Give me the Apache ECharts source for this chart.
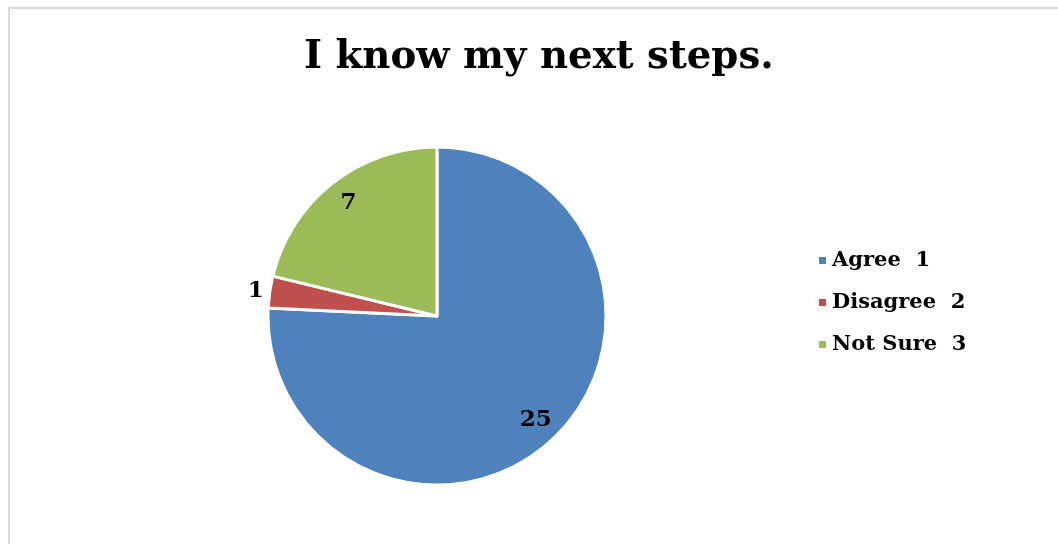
<!DOCTYPE html>
<html>
<head>
<meta charset="utf-8">
<title>I know my next steps.</title>
<script src="https://cdn.jsdelivr.net/npm/echarts@6/dist/echarts.min.js"></script>
<style>
  html, body { margin: 0; padding: 0; background: #ffffff; }
  #chart { width: 1058px; height: 544px; }
</style>
</head>
<body>
<div id="chart"></div>
<script>
// Survey answers for the statement "I know my next steps."
const categories = ['Agree  1', 'Disagree  2', 'Not Sure  3'];
const counts = [25, 1, 7];
const colors = ['#4F81BD', '#C0504D', '#9BBB59'];

const serif = '"DejaVu Serif", "Liberation Serif", serif';
const pieCenter = [437, 316];
const pieRadius = 169;

const chart = echarts.init(document.getElementById('chart'), null, { renderer: 'canvas' });

// Visible slices; the small "Disagree" slice carries its count outside the rim.
const sliceData = categories.map((name, i) => ({
  name,
  value: counts[i],
  itemStyle: { color: colors[i] },
  label: i === 1
    ? { show: true, position: 'outside', formatter: '{c}' }
    : { show: false }
}));

// Transparent twin of the pie, wider, so that its "inside" labels sit
// out towards the rim of the visible slices.
const labelData = categories.map((name, i) => ({
  name,
  value: counts[i],
  label: { show: i !== 1 }
}));

chart.setOption({
  animation: false,
  backgroundColor: '#ffffff',
  color: colors,
  title: {
    text: 'I know my next steps.',
    left: 299,
    top: 33,
    textStyle: { fontFamily: serif, fontWeight: 'bold', fontSize: 38.7, color: '#000000' }
  },
  legend: {
    orient: 'vertical',
    left: 812,
    top: 245,
    icon: 'rect',
    itemWidth: 9,
    itemHeight: 9,
    itemGap: 21,
    data: categories,
    textStyle: { fontFamily: serif, fontWeight: 'bold', fontSize: 21, color: '#000000' }
  },
  graphic: [{
    type: 'rect',
    silent: true,
    shape: { x: 9, y: 8, width: 1100, height: 600 },
    style: { fill: 'none', stroke: '#d9d9d9', lineWidth: 2 }
  }],
  series: [
    {
      type: 'pie',
      name: 'answers',
      center: pieCenter,
      radius: [0, pieRadius],
      startAngle: 90,
      clockwise: true,
      avoidLabelOverlap: false,
      itemStyle: { borderColor: '#ffffff', borderWidth: 3 },
      label: {
        fontFamily: serif, fontWeight: 'bold', fontSize: 23, color: '#000000',
        distanceToLabelLine: 0
      },
      labelLine: { show: false, length: 6, length2: 0 },
      emphasis: { disabled: true },
      data: sliceData
    },
    {
      type: 'pie',
      name: 'labels',
      silent: true,
      center: pieCenter,
      radius: [0, pieRadius * 1.66],
      startAngle: 90,
      clockwise: true,
      avoidLabelOverlap: false,
      itemStyle: { color: 'rgba(0,0,0,0)', borderWidth: 0 },
      label: {
        position: 'inside', formatter: '{c}',
        fontFamily: serif, fontWeight: 'bold', fontSize: 23, color: '#000000'
      },
      labelLine: { show: false },
      emphasis: { disabled: true },
      tooltip: { show: false },
      z: 3,
      data: labelData
    }
  ]
});
</script>
</body>
</html>
